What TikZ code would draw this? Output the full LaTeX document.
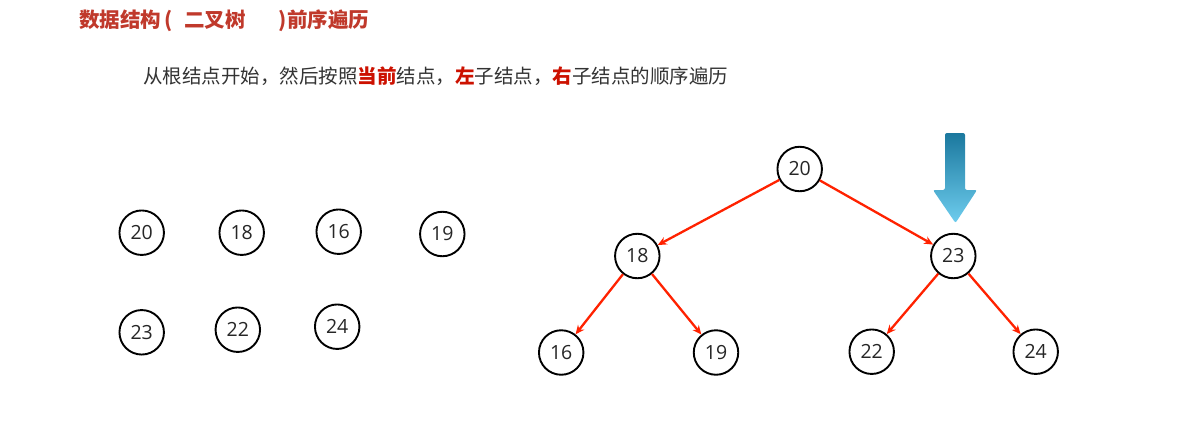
\documentclass[tikz,border=0pt]{standalone}
\usepackage{fontspec}
\setmainfont{Open Sans}
\newfontfamily\cjk{Noto Sans CJK SC}
\usetikzlibrary{arrows.meta}
\definecolor{titlered}{RGB}{192,57,43}
\definecolor{keyred}{RGB}{204,17,0}
\definecolor{subgray}{RGB}{51,51,51}
\definecolor{edgered}{RGB}{255,34,0}
\definecolor{arrowdark}{RGB}{27,120,158}
\definecolor{arrowlight}{RGB}{110,205,238}
\tikzset{
  num/.style={circle, draw=black, line width=1.9pt, minimum size=44.5pt, inner sep=0pt,
              font=\fontsize{19.5}{19.5}\selectfont, text=black!85},
  link/.style={draw=edgered, line width=2.3pt, -{Stealth[length=9pt,width=8pt]}},
}
\begin{document}
\begin{tikzpicture}[x=1pt,y=-1pt]
\useasboundingbox (0,0) rectangle (1194,445);
\fill[white] (0,0) rectangle (1194,445);
% title
\node[anchor=west, inner sep=0pt, text=titlered, font=\cjk\bfseries\fontsize{20.5}{20.5}\selectfont] (title) at (79,21)
  {数据结构\hspace{3pt}(\hspace{12pt}二叉树\hspace{33pt})前序遍历};
% subtitle
\node[anchor=west, inner sep=0pt, text=subgray, font=\cjk\fontsize{19.5}{19.5}\selectfont] (sub) at (143,76)
  {从根结点开始，然后按照{\bfseries\color{keyred}当前}结点，{\bfseries\color{keyred}左}子结点，{\bfseries\color{keyred}右}子结点的顺序遍历};
% loose nodes
\node[num] (l20) at (141.7,232.7) {20};
\node[num] (l18) at (241.7,232.7) {18};
\node[num] (l16) at (338.7,231.7) {16};
\node[num] (l19) at (442.3,234) {19};
\node[num] (l23) at (141.7,332.3) {23};
\node[num] (l22) at (237.8,329.7) {22};
\node[num] (l24) at (337.2,326.7) {24};
% tree
\node[num] (t20) at (799.7,169) {20};
\node[num] (t18) at (637.3,256) {18};
\node[num] (t23) at (953.3,256) {23};
\node[num] (t16) at (561.2,352.5) {16};
\node[num] (t19) at (716,352.5) {19};
\node[num] (t22) at (871.7,351.7) {22};
\node[num] (t24) at (1035.7,351.7) {24};
\draw[link] (t20) -- (t18);
\draw[link] (t20) -- (t23);
\draw[link] (t18) -- (t16);
\draw[link] (t18) -- (t19);
\draw[link] (t23) -- (t22);
\draw[link] (t23) -- (t24);
% pointer arrow
\shade[top color=arrowdark, bottom color=arrowlight, rounded corners=2pt]
  (945,133) -- (965,133) -- (965,190) -- (977,190) -- (955.5,223) -- (933,190) -- (945,190) -- cycle;
\end{tikzpicture}
\end{document}
